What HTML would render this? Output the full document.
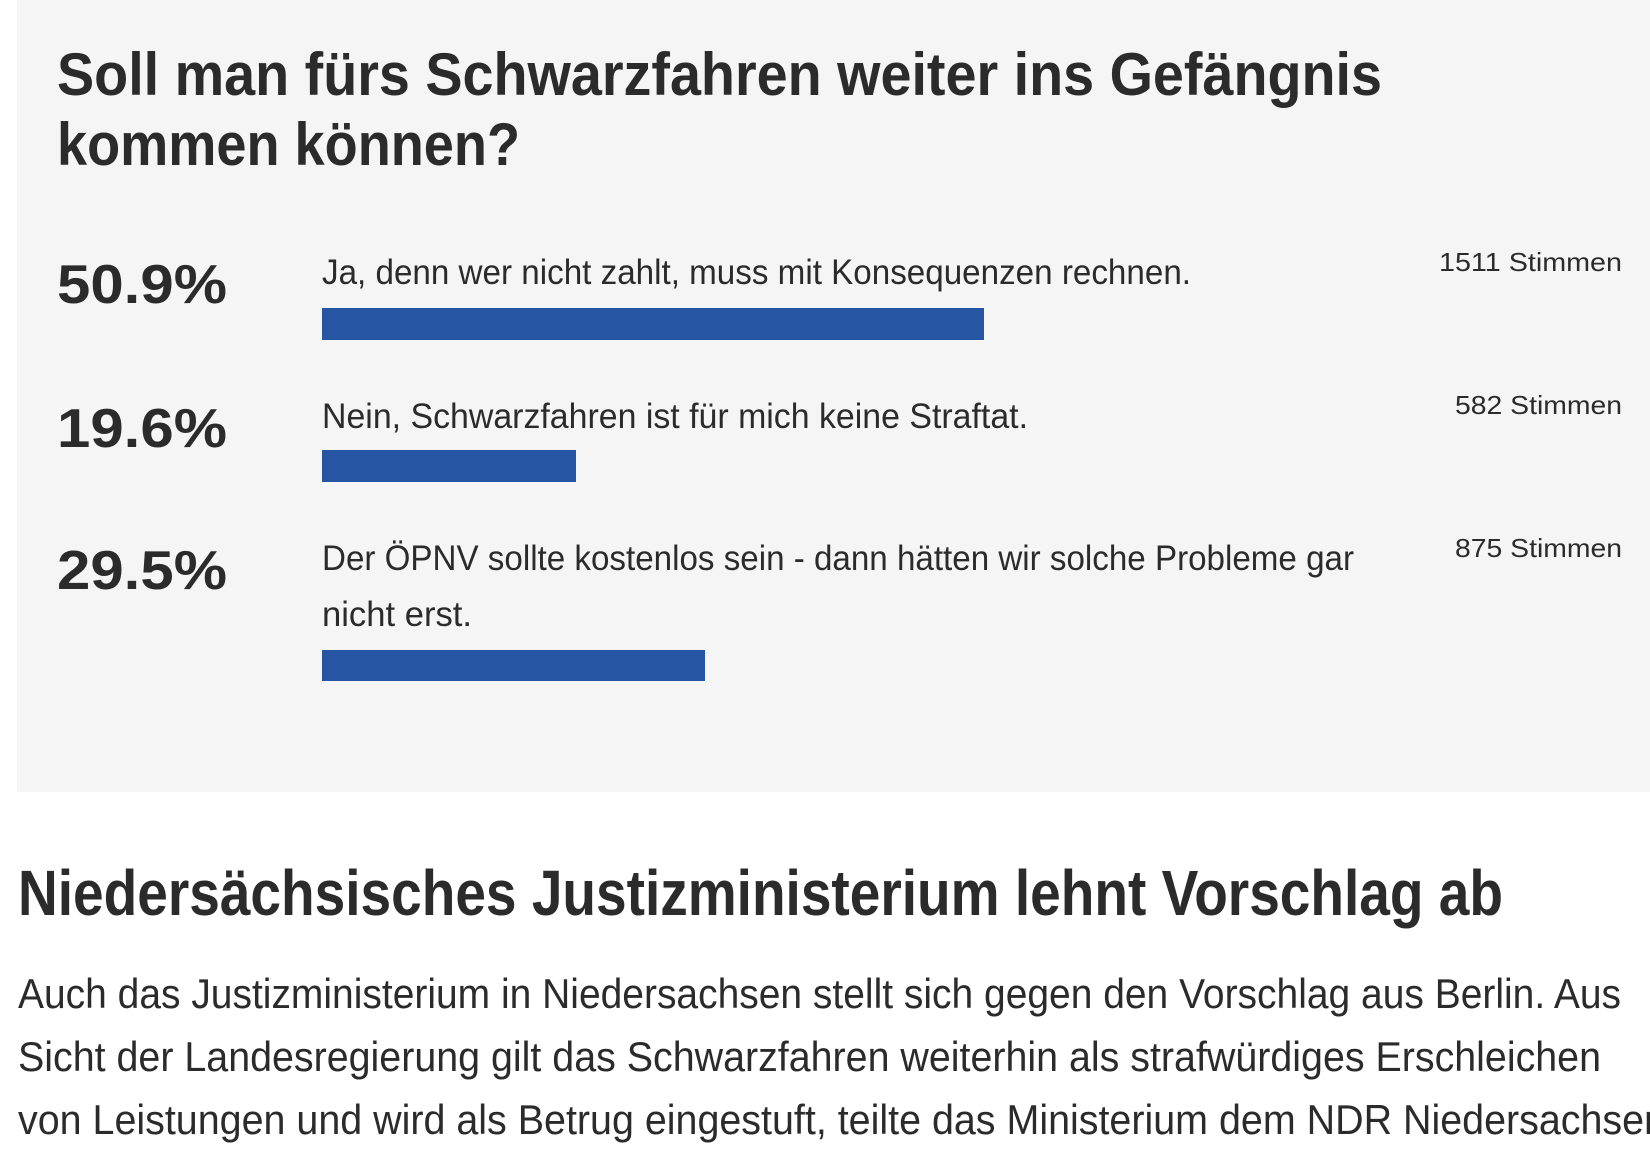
<!DOCTYPE html>
<html><head><meta charset="utf-8"><style>
html,body{margin:0;padding:0;background:#fff;width:1650px;height:1154px;overflow:hidden}
svg{display:block}
text{font-family:"Liberation Sans",sans-serif;fill:#2b2b2b}
</style></head><body>
<svg width="1650" height="1154" viewBox="0 0 1650 1154" xmlns="http://www.w3.org/2000/svg">
<rect x="17" y="0" width="1633" height="792" fill="#f5f5f5"/>
<text x="57" y="95" font-size="60" font-weight="bold" textLength="1325" lengthAdjust="spacingAndGlyphs">Soll man fürs Schwarzfahren weiter ins Gefängnis</text>
<text x="57" y="165" font-size="60" font-weight="bold" textLength="463" lengthAdjust="spacingAndGlyphs">kommen können?</text>

<text x="57" y="303" font-size="55" font-weight="bold" textLength="170" lengthAdjust="spacingAndGlyphs">50.9%</text>
<text x="322" y="284" font-size="35" textLength="869" lengthAdjust="spacingAndGlyphs">Ja, denn wer nicht zahlt, muss mit Konsequenzen rechnen.</text>
<text x="1439" y="271" font-size="26" textLength="183" lengthAdjust="spacingAndGlyphs">1511 Stimmen</text>
<rect x="322" y="308" width="662" height="32" fill="#2655a3"/>

<text x="57" y="447" font-size="55" font-weight="bold" textLength="170" lengthAdjust="spacingAndGlyphs">19.6%</text>
<text x="322" y="428" font-size="35" textLength="706" lengthAdjust="spacingAndGlyphs">Nein, Schwarzfahren ist für mich keine Straftat.</text>
<text x="1455" y="414" font-size="26" textLength="167" lengthAdjust="spacingAndGlyphs">582 Stimmen</text>
<rect x="322" y="450" width="254" height="32" fill="#2655a3"/>

<text x="57" y="589" font-size="55" font-weight="bold" textLength="170" lengthAdjust="spacingAndGlyphs">29.5%</text>
<text x="322" y="570" font-size="35" textLength="1032" lengthAdjust="spacingAndGlyphs">Der ÖPNV sollte kostenlos sein - dann hätten wir solche Probleme gar</text>
<text x="322" y="626" font-size="35" textLength="150" lengthAdjust="spacingAndGlyphs">nicht erst.</text>
<text x="1455" y="557" font-size="26" textLength="167" lengthAdjust="spacingAndGlyphs">875 Stimmen</text>
<rect x="322" y="650" width="383" height="31" fill="#2655a3"/>

<text x="18" y="915" font-size="64" font-weight="bold" textLength="1485" lengthAdjust="spacingAndGlyphs">Niedersächsisches Justizministerium lehnt Vorschlag ab</text>
<text x="18" y="1008" font-size="42" textLength="1603" lengthAdjust="spacingAndGlyphs">Auch das Justizministerium in Niedersachsen stellt sich gegen den Vorschlag aus Berlin. Aus</text>
<text x="18" y="1071" font-size="42" textLength="1583" lengthAdjust="spacingAndGlyphs">Sicht der Landesregierung gilt das Schwarzfahren weiterhin als strafwürdiges Erschleichen</text>
<text x="18" y="1134" font-size="42" textLength="1648" lengthAdjust="spacingAndGlyphs">von Leistungen und wird als Betrug eingestuft, teilte das Ministerium dem NDR Niedersachsen</text>
</svg>
</body></html>
